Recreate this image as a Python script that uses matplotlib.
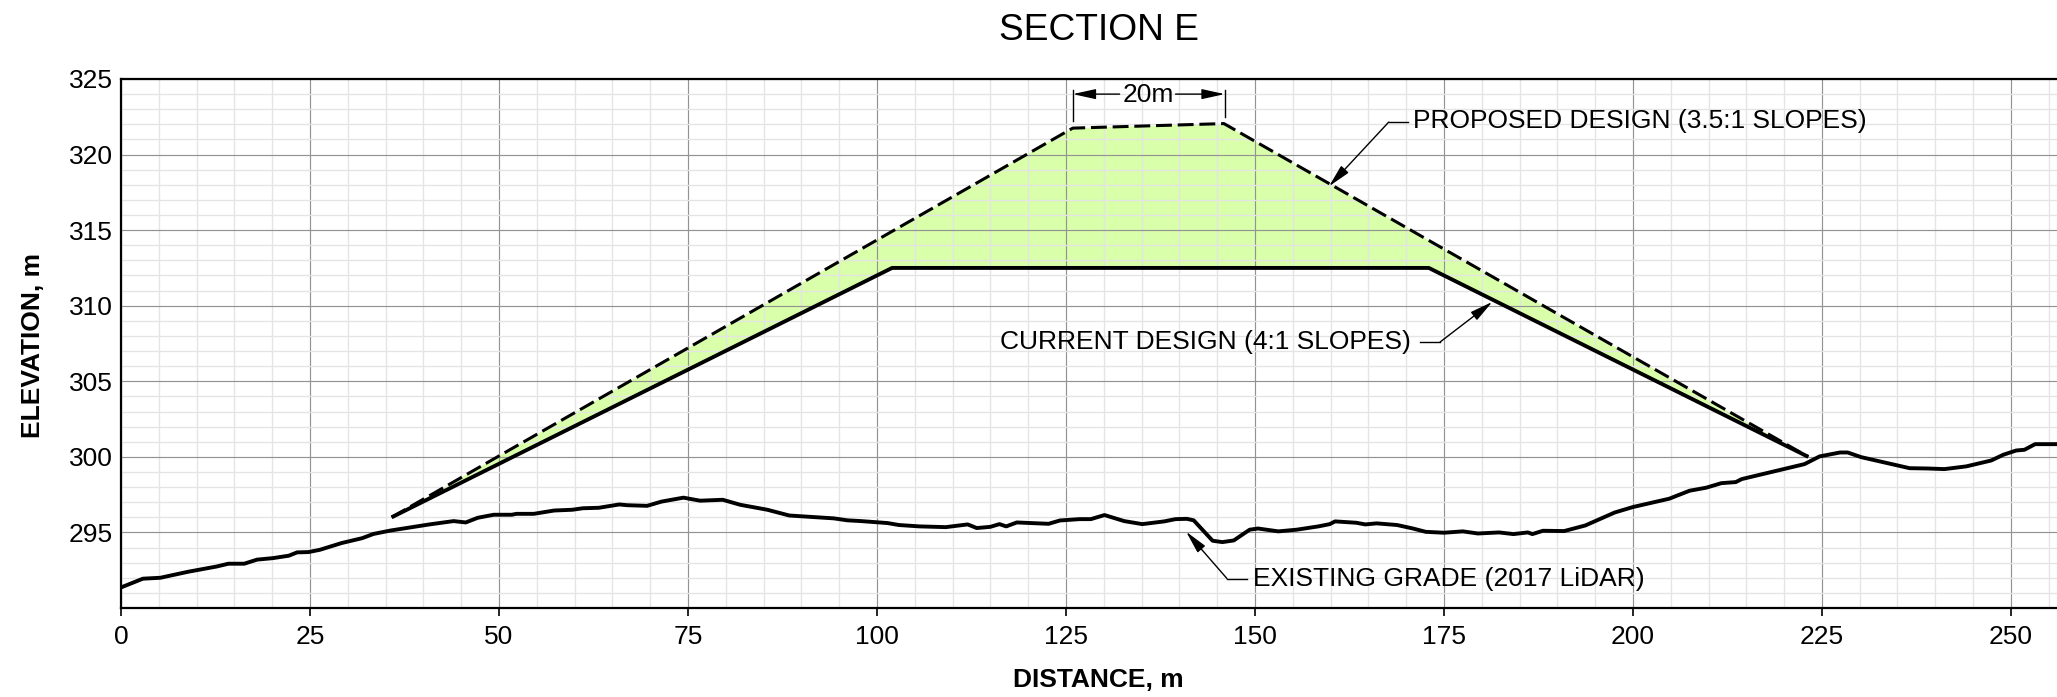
import numpy as np
from matplotlib import pyplot as plt

plt.rcParams["font.family"] = ["Liberation Sans", "DejaVu Sans"]

# existing grade
grade_x = [0, 2.9, 5.2, 8.9, 12.7, 14.2, 16.3, 18, 20.1, 22.2, 23.3, 24.8, 26.3, 29.2, 31.9, 33.4,
           35.7, 40.8, 44, 45.6, 47.2, 49.3, 51.7, 52.3, 54.6, 57.3, 59.7, 61.1, 63.2, 65.9, 67,
           69.6, 71.5, 74.4, 76.6, 79.6, 81.9, 85.5, 88.4, 94.3, 96.1, 97.9, 101.4, 102.9, 105.6,
           109.1, 112, 113.2, 115, 116.2, 117.1, 118.5, 122.7, 124.2, 126.8, 128.3, 130.1, 132.7,
           135.1, 138, 139.5, 141, 141.9, 144.4, 145.7, 147.2, 149.3, 150.4, 153.1, 155.5, 158.4,
           159.9, 160.6, 163.4, 164.6, 166.1, 168.8, 170.9, 172.6, 175, 177.5, 179.5, 182.3, 184.2,
           186.1, 186.7, 188.1, 190.9, 193.7, 197.6, 200, 204.8, 207.5, 209.7, 211.7, 213.6, 214.4,
           222.7, 224.7, 227.4, 228.4, 230.2, 236.6, 239, 241.2, 244.1, 247.4, 249, 250.7, 251.8,
           253.2, 256.1]
grade_y = [291.36, 291.94, 292.0, 292.4, 292.75, 292.93, 292.93, 293.2, 293.3, 293.46, 293.68, 293.7,
           293.85, 294.3, 294.62, 294.9, 295.13, 295.53, 295.75, 295.66, 295.97, 296.17, 296.17,
           296.23, 296.23, 296.45, 296.5, 296.6, 296.63, 296.85, 296.8, 296.76, 297.04, 297.3, 297.1,
           297.16, 296.83, 296.5, 296.12, 295.93, 295.8, 295.75, 295.62, 295.49, 295.4, 295.35,
           295.53, 295.29, 295.37, 295.55, 295.4, 295.66, 295.57, 295.79, 295.88, 295.88, 296.15,
           295.75, 295.55, 295.73, 295.88, 295.9, 295.8, 294.45, 294.36, 294.47, 295.18, 295.26,
           295.07, 295.18, 295.4, 295.55, 295.73, 295.64, 295.53, 295.6, 295.49, 295.26, 295.04,
           294.98, 295.07, 294.93, 295.0, 294.89, 295.0, 294.89, 295.11, 295.09, 295.46, 296.32,
           296.68, 297.23, 297.76, 297.96, 298.26, 298.33, 298.53, 299.52, 300.03, 300.29, 300.29,
           299.98, 299.25, 299.23, 299.19, 299.37, 299.76, 300.14, 300.42, 300.47, 300.84, 300.84]

current_x = [35.8, 102, 173, 223.2]
current_y = [296.0, 312.5, 312.5, 300.0]

proposed_x = [35.8, 125.9, 145.9, 223.2]
proposed_y = [296.0, 321.75, 322.05, 300.0]

x_ticks = [0, 25, 50, 75, 100, 125, 150, 175, 200, 225, 250]
y_ticks = [295, 300, 305, 310, 315, 320, 325]

fig = plt.figure(figsize=(20.57, 6.97), dpi=100)
ax = fig.add_axes([121 / 2057, 1 - 608 / 697, (2057 - 121) / 2057, (608 - 79) / 697])

# fill sits under the grid, the grid shows through it in the original
fill_x = np.array(proposed_x + current_x[::-1])
fill_y = np.array(proposed_y + current_y[::-1])
ax.fill(fill_x, fill_y, color="#d9ffaa", lw=0, zorder=1)

ax.set_xlim(0, 256.1)
ax.set_ylim(290, 325)
ax.set_xticks(x_ticks)
ax.set_yticks(y_ticks)
ax.set_xticks(np.arange(5, 256, 5), minor=True)
ax.set_yticks(np.arange(291, 325, 1), minor=True)
ax.grid(which="major", color="#939393", lw=0.85, zorder=2)
ax.grid(which="minor", color="#e4e4e4", lw=0.95, zorder=1.5)
ax.set_axisbelow(False)
ax.tick_params(which="minor", length=0)
ax.tick_params(axis="x", which="major", length=6, width=1.2, labelsize=19, pad=6)
ax.tick_params(axis="y", which="major", length=0, labelsize=19, pad=6)
for side in ["top", "left", "bottom"]:
    ax.spines[side].set_linewidth(1.6)
    ax.spines[side].set_zorder(6)
ax.spines["right"].set_visible(False)

ax.plot(grade_x, grade_y, color="black", lw=2.8, solid_joinstyle="round", zorder=5)
ax.plot(current_x, current_y, color="black", lw=2.8, solid_capstyle="butt", zorder=5)
ax.plot(proposed_x, proposed_y, color="black", lw=2.2, dashes=(5.2, 1.9), zorder=5)

arrow = dict(arrowstyle="-|>,head_length=1.0,head_width=0.22", color="black", lw=1.0,
             shrinkA=0, shrinkB=0, mutation_scale=14)


def leader(tip, elbow, end):
    ax.plot([end[0], elbow[0]], [end[1], elbow[1]], color="black", lw=1.0, zorder=6)
    ax.annotate("", xy=tip, xytext=elbow, arrowprops=arrow, zorder=6)


leader((159.8, 317.9), (167.7, 322.15), (170.2, 322.15))
leader((181.4, 310.25), (174.5, 307.6), (171.8, 307.6))
leader((140.9, 295.05), (146.3, 291.95), (149.0, 291.95))

ax.text(170.9, 322.2, "PROPOSED DESIGN (3.5:1 SLOPES)", fontsize=19, va="center", zorder=7)
ax.text(170.6, 307.6, "CURRENT DESIGN (4:1 SLOPES)", fontsize=19, va="center", ha="right", zorder=7)
ax.text(149.7, 291.95, "EXISTING GRADE (2017 LiDAR)", fontsize=19, va="center", zorder=7)

# 20 m crest dimension
ax.plot([125.9, 125.9], [322.2, 324.3], color="black", lw=1.0, zorder=6)
ax.plot([146.0, 146.0], [322.5, 324.3], color="black", lw=1.0, zorder=6)
ax.annotate("", xy=(125.9, 324.0), xytext=(132.1, 324.0), arrowprops=arrow, zorder=6)
ax.annotate("", xy=(146.0, 324.0), xytext=(139.5, 324.0), arrowprops=arrow, zorder=6)
ax.text(135.85, 323.95, "20m", fontsize=19, va="center", ha="center", zorder=7)

fig.text(1099 / 2057, 1 - 30 / 697, "SECTION E", fontsize=26.7, ha="center", va="center")
fig.text(1098 / 2057, 1 - 680 / 697, "DISTANCE, m", fontsize=19, fontweight="bold", ha="center", va="center")
fig.text(33 / 2057, 1 - 346 / 697, "ELEVATION, m", fontsize=19, fontweight="bold", ha="center", va="center",
         rotation=90)

fig.savefig("out.png", dpi=100)
